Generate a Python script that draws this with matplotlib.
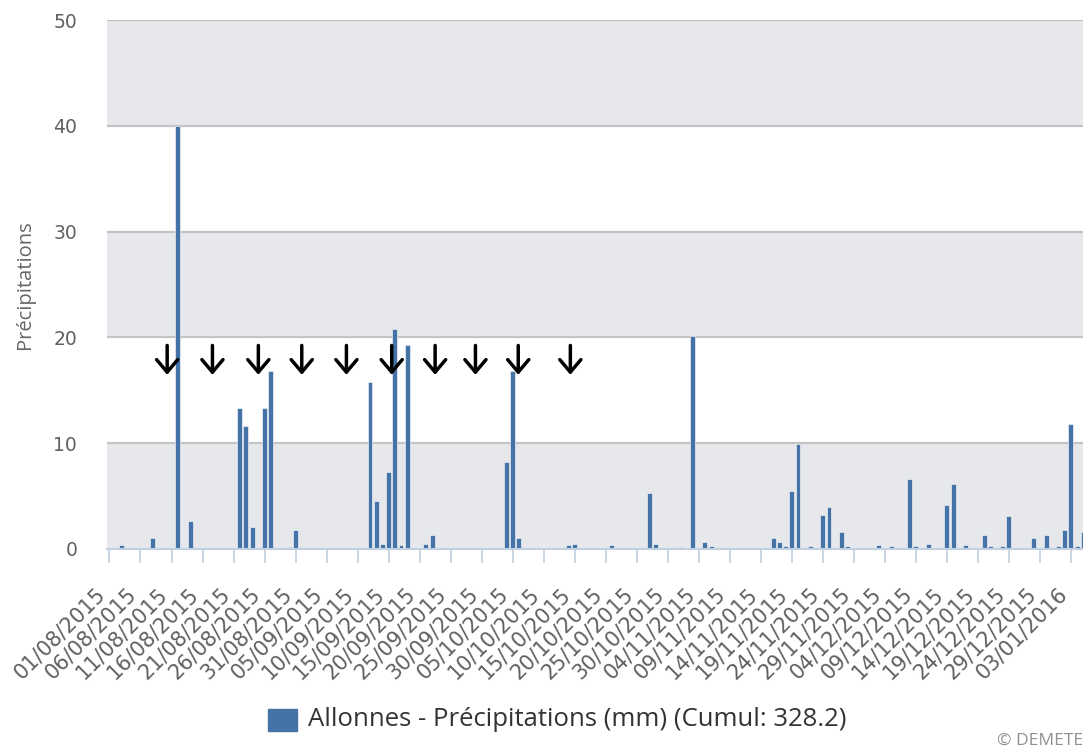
import numpy as np
import pandas as pd
import matplotlib
matplotlib.use("Agg")
import matplotlib.pyplot as plt
from matplotlib.patches import Rectangle
import matplotlib.transforms as mtransforms

# jours depuis le 01/08/2015 et pluie (mm)
jours = [2, 7, 11, 13, 21, 22, 23, 25, 26, 29, 30,
         42, 43, 44, 45, 46, 47, 48, 51, 52,
         64, 65, 66, 74, 75, 81, 87, 88,
         92, 94, 96, 97, 107, 108, 109, 110, 111, 113, 115, 116, 118, 119,
         124, 126, 129, 130, 132, 135, 136, 138, 141, 142, 144, 145, 149, 151,
         153, 154, 155, 156, 157]
pluie = [0.4, 1.0, 40.0, 2.6, 13.3, 11.6, 2.1, 13.3, 16.8, 0.2, 1.8,
         15.8, 4.5, 0.5, 7.3, 20.8, 0.4, 19.3, 0.5, 1.3,
         8.2, 16.8, 1.0, 0.4, 0.5, 0.4, 5.3, 0.5,
         0.2, 20.1, 0.7, 0.3, 1.0, 0.7, 0.3, 5.5, 9.9, 0.3, 3.2, 4.0, 1.6, 0.3,
         0.4, 0.3, 6.6, 0.3, 0.5, 4.2, 6.1, 0.4, 1.3, 0.3, 0.3, 3.1, 1.0, 1.3,
         0.3, 1.8, 11.8, 0.3, 1.6]

# fleches (jours)
fleches = [9.3, 16.6, 24.0, 31.0, 38.2, 45.5, 52.5, 59.0, 65.9, 74.3]

dates_ticks = pd.date_range("2015-08-01", "2016-01-03", freq="5D")
xlab = [d.strftime("%d/%m/%Y") for d in dates_ticks]
xtick_pos = [(d - dates_ticks[0]).days for d in dates_ticks]

W, H = 1083, 749
fig = plt.figure(figsize=(W / 100, H / 100), dpi=100)
ax = fig.add_axes([107 / W, 1 - 549 / H, 1 - 107 / W, (549 - 20) / H])

# bandes
for y0 in [0, 20, 40]:
    ax.axhspan(y0, y0 + 10, color="#E7E8EC", zorder=0, lw=0)
for y in [10, 20, 30, 40, 50]:
    ax.axhline(y, color="#C4C4C4", lw=1.6, zorder=1)

ax.bar(jours, pluie, width=0.8, color="#4572A7", edgecolor="white", linewidth=0.4, zorder=3)

for xf in fleches:
    ax.annotate("", xy=(xf, 16.2), xytext=(xf, 19.5),
                arrowprops=dict(arrowstyle="->,head_length=0.45,head_width=0.38",
                                color="black", lw=2.5, mutation_scale=20),
                zorder=5)

ax.set_xlim(-0.4, 156.95)
ax.set_ylim(0, 50)
ax.set_yticks([0, 10, 20, 30, 40, 50])
ax.tick_params(axis="y", length=0, pad=21.5, labelsize=13.5, labelcolor="#606060")

ax.set_xticks(xtick_pos)
ax.set_xticklabels(xlab, rotation=45, ha="right", va="center", rotation_mode="anchor",
                   fontsize=15, color="#606060")
ax.tick_params(axis="x", length=10, width=1.2, color="#C0D0E0", pad=6)
off = mtransforms.ScaledTranslation(-0.07, -0.2, fig.dpi_scale_trans)
for lab in ax.get_xticklabels():
    lab.set_transform(lab.get_transform() + off)

for s in ["top", "right", "left"]:
    ax.spines[s].set_visible(False)
ax.spines["bottom"].set_color("#C0D0E0")
ax.spines["bottom"].set_linewidth(1.5)
ax.spines["bottom"].set_zorder(4)

fig.text(25 / W, 1 - 285 / H, "Précipitations", rotation=90, ha="center", va="center",
         fontsize=14.5, color="#666666", family="Open Sans")

# legende
fig.patches.append(Rectangle((268 / W, 1 - 731 / H), 29 / W, 22 / H,
                             transform=fig.transFigure, color="#4572A7"))
fig.text(308 / W, 1 - 720 / H, "Allonnes - Précipitations (mm) (Cumul: 328.2)",
         ha="left", va="center", fontsize=18.5, color="#333333", family="Open Sans")
fig.text(1083 / W, 1 - 741 / H, "© DEMETE", ha="right", va="center",
         fontsize=12.5, color="#909090", family="Open Sans")

fig.savefig("out.png", dpi=100)
